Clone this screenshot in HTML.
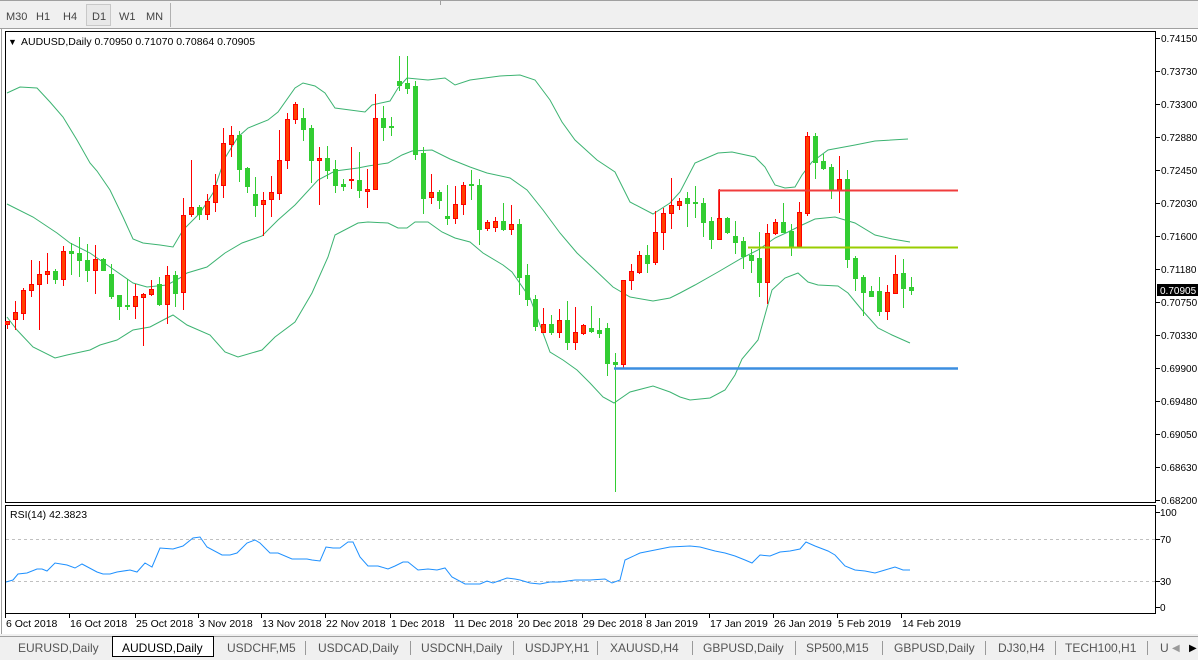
<!DOCTYPE html>
<html><head><meta charset="utf-8">
<style>
html,body{margin:0;padding:0;width:1198px;height:660px;overflow:hidden;background:#fff;font-family:"Liberation Sans",sans-serif;}
svg{position:absolute;left:0;top:0}
</style></head>
<body>
<svg id="s" width="1198" height="660" viewBox="0 0 1198 660" xmlns="http://www.w3.org/2000/svg" font-family="Liberation Sans, sans-serif">
<rect x="0" y="0" width="1198" height="29" fill="#f0f0f0"/>
<line x1="0" y1="0.5" x2="1198" y2="0.5" stroke="#a0a0a0"/>
<line x1="0" y1="28.5" x2="1198" y2="28.5" stroke="#a0a0a0"/>
<line x1="440.5" y1="0" x2="440.5" y2="5" stroke="#a0a0a0"/>
<rect x="86.5" y="4.5" width="24" height="21" fill="#e8e8e8" stroke="#c8c8c8"/>
<line x1="170.5" y1="3" x2="170.5" y2="27" stroke="#b0b0b0"/>
<g font-size="11" fill="#444">
<text x="6" y="20">M30</text><text x="36" y="20">H1</text><text x="63" y="20">H4</text><text x="92" y="20">D1</text><text x="119" y="20">W1</text><text x="146" y="20">MN</text>
</g>
<line x1="1.5" y1="29" x2="1.5" y2="634" stroke="#a0a0a0"/>
<rect x="5.5" y="31.5" width="1150" height="471" fill="#fff" stroke="#000"/>
<rect x="5.5" y="505.5" width="1150" height="108" fill="#fff" stroke="#000"/>
<text x="8" y="45" font-size="9">▼</text>
<text x="21" y="45" font-size="10.5" fill="#000">AUDUSD,Daily  0.70950 0.71070 0.70864 0.70905</text>
<text x="10" y="518" font-size="10.5" fill="#000">RSI(14) 42.3823</text>
<line x1="6" y1="539.5" x2="1155" y2="539.5" stroke="#c0c0c0" stroke-dasharray="3,3"/>
<line x1="6" y1="581.5" x2="1155" y2="581.5" stroke="#c0c0c0" stroke-dasharray="3,3"/>
<g id="bands" fill="none" stroke="#3cb371" stroke-width="1"></g>
<g id="candles"></g>
<line x1="718" y1="190.5" x2="958" y2="190.5" stroke="#f03c3c" stroke-width="2"/>
<line x1="718.5" y1="190" x2="718.5" y2="218" stroke="#f03c3c" stroke-width="1"/>
<line x1="748" y1="247.5" x2="958" y2="247.5" stroke="#9acd00" stroke-width="2"/>
<line x1="614" y1="368.5" x2="958" y2="368.5" stroke="#3c8ee0" stroke-width="2.5"/>
<polyline id="rsi" fill="none" stroke="#1e90ff" stroke-width="1"/>
<g id="axis" font-size="10" fill="#000"></g>
<rect x="1157" y="284" width="41" height="12" fill="#000"/>
<text x="1160" y="294" font-size="10" fill="#fff">0.70905</text>
<g font-size="10" fill="#000">
<line x1="1156" y1="512.5" x2="1160" y2="512.5" stroke="#000"/><text x="1160" y="516">100</text>
<line x1="1156" y1="539.5" x2="1160" y2="539.5" stroke="#000"/><text x="1160" y="543">70</text>
<line x1="1156" y1="581.5" x2="1160" y2="581.5" stroke="#000"/><text x="1160" y="585">30</text>
<line x1="1156" y1="607.5" x2="1160" y2="607.5" stroke="#000"/><text x="1160" y="611">0</text>
</g>
<g id="dates" font-size="10.5" fill="#000"></g>
<rect x="0" y="634" width="1198" height="26" fill="#f0f0f0"/>
<line x1="0" y1="636.5" x2="1198" y2="636.5" stroke="#a0a0a0"/>
<rect x="112.5" y="636.5" width="101" height="20" fill="#fff" stroke="#000"/>
<g font-size="12" fill="#555">
<text x="18" y="652">EURUSD,Daily</text>
<text x="122" y="652" fill="#000">AUDUSD,Daily</text>
<text x="227" y="652">USDCHF,M5</text>
<text x="318" y="652">USDCAD,Daily</text>
<text x="421" y="652">USDCNH,Daily</text>
<text x="525" y="652">USDJPY,H1</text>
<text x="610" y="652">XAUUSD,H4</text>
<text x="703" y="652">GBPUSD,Daily</text>
<text x="806" y="652">SP500,M15</text>
<text x="894" y="652">GBPUSD,Daily</text>
<text x="998" y="652">DJ30,H4</text>
<text x="1065" y="652">TECH100,H1</text>
<text x="1160" y="652">U</text>
<text x="1172" y="651" font-size="10" fill="#999">◀</text>
<text x="1189" y="651" font-size="10" fill="#000">▶</text>
</g>
<g stroke="#999"><line x1="305.5" y1="641" x2="305.5" y2="655"/><line x1="410.5" y1="641" x2="410.5" y2="655"/><line x1="513.5" y1="641" x2="513.5" y2="655"/><line x1="597.5" y1="641" x2="597.5" y2="655"/><line x1="692.5" y1="641" x2="692.5" y2="655"/><line x1="795.5" y1="641" x2="795.5" y2="655"/><line x1="882.5" y1="641" x2="882.5" y2="655"/><line x1="985.5" y1="641" x2="985.5" y2="655"/><line x1="1055.5" y1="641" x2="1055.5" y2="655"/><line x1="1147.5" y1="641" x2="1147.5" y2="655"/></g>
</svg>
<script>
var NS="http://www.w3.org/2000/svg";
function el(t,a,p){var e=document.createElementNS(NS,t);for(var k in a)e.setAttribute(k,a[k]);p.appendChild(e);return e;}
var C=[
['r',321,324,321,328],['r',312,319,301,329],['r',290,313,288,319],['r',284,290,260,296],['r',274,284,261,329],['r',271,274,253,283],['g',271,279,269,283],['r',251,279,246,285],['g',251,253,243,274],['g',253,260,237,276],
['g',260,270,244,281],['r',259,270,245,293],['g',259,270,258,270],['g',274,296,264,298],['g',295,306,295,319],['g',305,306,279,309],['r',296,306,284,318],['r',294,297,293,345],['r',289,294,280,295],['g',284,304,277,305],
['r',275,304,266,323],['g',275,293,271,306],['r',215,292,198,309],['r',207,214,160,216],['g',207,214,205,219],['r',201,214,194,219],['r',185,202,174,211],['r',143,185,128,197],['r',135,144,126,156],['g',135,169,131,181],
['g',168,186,167,192],['g',194,205,177,216],['r',200,204,192,235],['r',192,199,176,216],['r',160,193,130,199],['r',119,160,113,168],['r',104,119,102,123],['g',118,129,108,140],['g',128,160,125,182],['r',158,160,147,204],
['g',158,170,146,178],['g',169,185,160,192],['g',184,186,179,190],['r',179,180,147,188],['g',180,190,152,197],['r',189,191,169,207],['r',118,189,94,189],['g',118,127,106,140],['g',126,127,117,135],['g',81,85,56,90],
['g',83,88,56,93],['g',86,154,81,159],['g',153,198,147,213],['r',192,197,174,203],['g',192,200,190,208],['g',216,218,185,224],['r',204,218,186,223],['r',185,204,182,214],['g',184,185,170,199],['g',185,229,179,244],
['r',222,228,220,230],['r',221,227,217,231],['g',221,229,203,230],['r',224,229,205,234],['g',224,277,219,294],['g',275,299,264,305],['g',299,326,295,330],['r',324,332,308,332],['g',324,332,315,334],['r',320,332,309,337],
['g',320,342,301,349],['r',332,342,307,349],['r',325,333,324,334],['g',328,331,306,332],['g',330,333,318,337],['g',328,363,323,375],['g',362,364,353,491],['r',280,364,280,368],['r',271,280,264,289],['r',255,272,251,273],
['g',255,263,245,272],['r',232,262,211,264],['r',213,232,208,249],['r',205,213,178,228],['r',201,205,198,209],['g',198,203,192,226],['g',202,203,186,217],['g',203,222,198,236],['g',221,239,217,248],['r',218,239,189,239],
['g',218,232,217,233],['g',236,242,221,253],['g',241,256,237,268],['g',255,260,249,272],['g',258,282,232,296],['r',233,282,224,303],['r',222,233,219,234],['g',222,232,203,232],['g',231,246,224,255],['r',212,246,202,247],
['r',136,213,132,215],['g',136,162,133,178],['g',161,168,154,169],['g',167,190,164,198],['r',179,190,156,212],['g',179,259,170,267],['g',258,278,256,290],['g',277,292,275,315],['g',291,296,286,296],['g',291,311,277,315],
['r',292,311,285,319],['r',274,293,255,293],['g',273,288,259,307],['g',287,290,277,294]];
var cg=document.getElementById('candles');
C.forEach(function(c,i){var x=7+8*i;var col=c[0]=='r'?'#ff0000':'#32cd32';
el('line',{x1:x+0.5,y1:c[3],x2:x+0.5,y2:c[4]+1,stroke:col},cg);
var h=Math.max(c[2]-c[1],1);
if(c[0]=='r')el('rect',{x:x-2+0.5,y:c[1]+0.5,width:4,height:h,fill:'#ff4000',stroke:'#ff0000'},cg);
else el('rect',{x:x-2,y:c[1],width:5,height:h+1,fill:'#32cd32'},cg);});
var up="7,93 20,87 37,88 50,102 63,117 77,140 90,163 97,171 110,190 123,217 133,239 143,243 160,245 173,247 183,230 200,213 213,193 225,158 238,137 248,128 268,120 278,112 295,88 303,83 315,86 325,93 335,108 365,112 372,105 390,101 398,88 407,78 428,80 445,78 455,85 470,80 500,76 520,75 535,80 550,100 562,122 575,140 597,160 615,172 630,202 653,214 670,203 680,192 695,163 718,153 732,152 755,157 765,167 775,185 785,188 795,187 802,175 812,162 828,150 855,145 875,141 908,139";
var mid="7,204 33,217 57,233 70,243 90,253 110,267 133,283 147,287 167,285 180,278 187,273 207,267 225,253 242,243 262,236 278,220 295,205 318,180 335,171 358,168 368,166 388,163 402,155 412,151 432,150 450,159 470,167 487,173 510,178 527,190 543,210 560,233 577,253 593,268 613,287 630,297 653,301 670,298 680,293 695,285 718,272 742,258 758,250 775,238 788,232 802,225 815,219 835,217 855,223 875,235 892,239 910,242";
var lo="7,317 17,330 33,347 55,358 67,355 90,350 100,345 117,340 133,330 150,327 167,318 173,315 187,325 210,335 225,352 238,357 262,350 275,337 295,322 312,293 328,257 335,235 358,223 368,222 388,223 398,228 407,228 415,222 428,222 442,232 455,238 470,242 483,253 503,265 512,272 530,298 550,352 563,360 577,370 590,383 603,397 614,403 630,392 653,386 670,392 680,397 690,400 710,398 725,390 735,375 742,359 758,340 772,290 785,278 798,273 808,282 818,285 838,286 848,293 862,310 878,328 892,335 910,343";
var bg=document.getElementById('bands');
[up,mid,lo].forEach(function(p){el('polyline',{points:p},bg);});
document.getElementById('rsi').setAttribute('points',"6,582 13,580 18,574 27,573 37,569 42,569 47,571 55,563 67,565 75,568 82,564 97,572 103,574 110,574 117,572 130,570 137,572 145,563 152,567 160,548 173,549 183,546 193,538 200,537 207,547 222,555 230,555 237,553 247,543 255,540 260,543 270,553 278,553 292,559 307,559 312,560 320,561 326,547 333,548 340,548 348,542 353,542 360,557 368,566 378,566 388,569 395,566 403,562 408,562 418,570 428,569 437,570 445,568 452,577 465,584 470,584 480,584 487,581 493,583 507,578 515,579 520,580 530,583 540,584 550,582 560,582 575,580 590,580 605,579 612,583 620,580 625,560 640,553 655,550 670,547 690,546 700,547 715,551 725,553 735,556 745,560 752,563 760,555 770,556 780,552 790,551 800,549 806,542 815,546 828,551 835,555 845,566 855,570 865,571 875,573 885,570 895,567 903,570 910,570");
var ax=document.getElementById('axis');
var L=["0.74150","0.73730","0.73300","0.72880","0.72450","0.72030","0.71600","0.71180","0.70750","0.70330","0.69900","0.69480","0.69050","0.68630","0.68200"];
L.forEach(function(t,i){var y=38+i*33;el('line',{x1:1156,y1:y+0.5,x2:1160,y2:y+0.5,stroke:'#000'},ax);var tx=el('text',{x:1161,y:y+4},ax);tx.textContent=t;});
var D=[["6 Oct 2018",5],["16 Oct 2018",69],["25 Oct 2018",135],["3 Nov 2018",198],["13 Nov 2018",261],["22 Nov 2018",325],["1 Dec 2018",390],["11 Dec 2018",453],["20 Dec 2018",517],["29 Dec 2018",582],["8 Jan 2019",645],["17 Jan 2019",709],["26 Jan 2019",773],["5 Feb 2019",837],["14 Feb 2019",901]];
var dg=document.getElementById('dates');
D.forEach(function(d){el('line',{x1:d[0+1]+0.5,y1:614,x2:d[1]+0.5,y2:618,stroke:'#000'},dg);var t=el('text',{x:d[1]+1,y:627},dg);t.textContent=d[0];});
</script>
</body></html>
